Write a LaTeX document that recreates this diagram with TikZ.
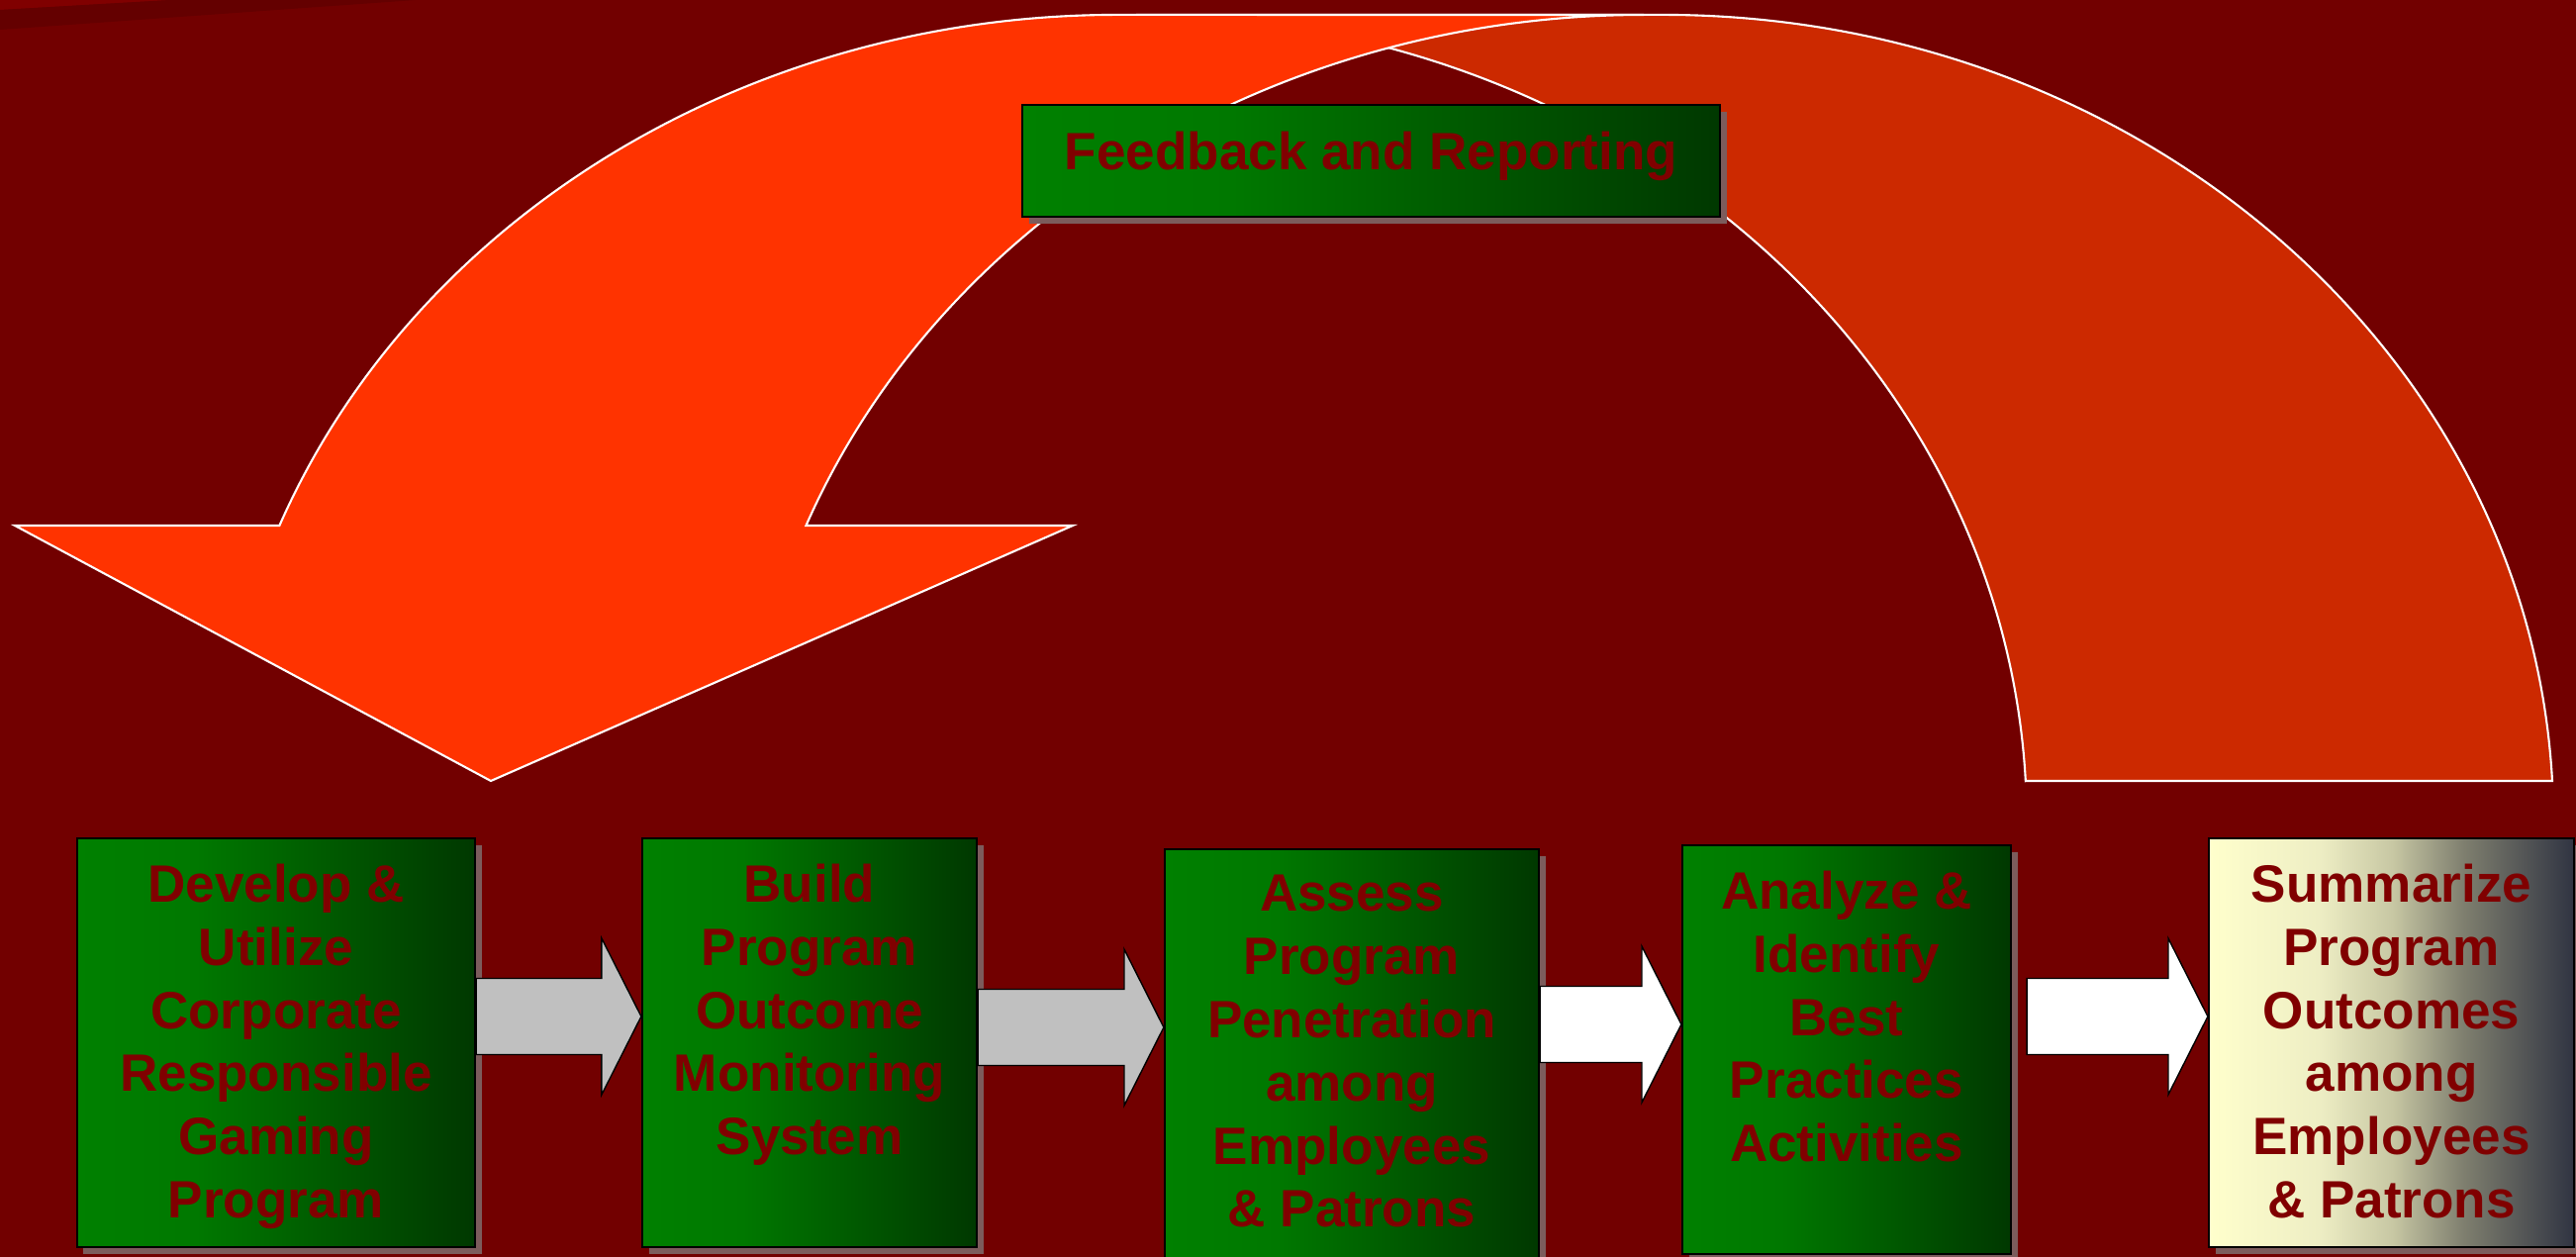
\documentclass[tikz,border=0pt]{standalone}
\usepackage{fontspec}
\setmainfont{Liberation Sans}
\usetikzlibrary{calc,shadows}
\definecolor{bgred}{RGB}{114,0,0}
\definecolor{streaklight}{RGB}{128,0,0}
\definecolor{streakdark}{RGB}{100,0,0}
\definecolor{bandorange}{RGB}{255,51,0}
\definecolor{banddark}{RGB}{204,41,0}
\definecolor{textred}{RGB}{128,0,0}
\definecolor{shadowgrey}{RGB}{124,92,92}
\definecolor{arrowgrey}{RGB}{192,192,192}
\definecolor{greenL}{RGB}{0,128,0}
\definecolor{greenM}{RGB}{0,120,0}
\definecolor{greenR}{RGB}{0,56,0}
\definecolor{sumA}{RGB}{255,255,204}
\definecolor{sumB}{RGB}{238,238,196}
\definecolor{sumC}{RGB}{200,200,164}
\definecolor{sumD}{RGB}{126,126,110}
\definecolor{sumE}{RGB}{48,52,66}
\pgfdeclarehorizontalshading{greenshade}{100bp}{color(0bp)=(greenL); color(25bp)=(greenL); color(40bp)=(greenM); color(75bp)=(greenR); color(100bp)=(greenR)}
\pgfdeclarehorizontalshading{sumshade}{100bp}{color(0bp)=(sumA); color(25bp)=(sumA); color(40bp)=(sumB); color(50bp)=(sumC); color(60bp)=(sumD); color(75bp)=(sumE); color(100bp)=(sumE)}
\tikzset{
    band/.style={draw=white, line width=0.6pt, line join=miter},
    flow/.style={draw=black, line width=0.4pt, line join=miter},
    boxshadow/.style={drop shadow={shadow xshift=0.065cm, shadow yshift=-0.07cm, fill=shadowgrey, opacity=1}},
    greenbox/.style={draw=black, line width=0.6pt, shade, shading=greenshade, inner sep=0pt, boxshadow},
    sumbox/.style={draw=black, line width=0.6pt, shade, shading=sumshade, inner sep=0pt, boxshadow},
    boxtext/.style={text=textred, font=\bfseries\fontsize{15.1}{18.2}\selectfont, align=center, anchor=north, inner sep=0pt}
}
\newcommand{\flowarrow}[3]{%
    \draw[flow,fill=#3] let \p1=#1, \p2=#2 in
        (\x1,\y2+3.85mm) -- (\x2-4mm,\y2+3.85mm) -- (\x2-4mm,\y2+7.9mm) -- (\x2,\y2)
        -- (\x2-4mm,\y2-7.9mm) -- (\x2-4mm,\y2-3.85mm) -- (\x1,\y2-3.85mm) -- cycle;}

\begin{document}
\begin{tikzpicture}
                    \useasboundingbox (0,0) rectangle (26.03,12.70);
                    \clip (0,0) rectangle (26.03,12.70);
                    \fill[bgred] (0,0) rectangle (26.03,12.70);
                    \fill[streaklight] (0,12.70) -- (0,12.60) -- (1.72,12.70) -- cycle;
                    \fill[streakdark] (0,12.60) -- (0,12.40) -- (4.2,12.70) -- (1.72,12.70) -- cycle;

                    \draw[band,fill=banddark] (20.47,4.81) -- (25.79,4.81) arc[start angle=2.88, end angle=90, x radius=9, y radius=8.15] -- (11.48,12.55) arc[start angle=90, end angle=2.88, x radius=9, y radius=8.15] -- cycle;
                    \draw[band,fill=bandorange] (0.15,7.39) -- (2.824,7.39) arc[start angle=158.48, end angle=90, x radius=9.1, y radius=8.15] -- (16.61,12.55) arc[start angle=90, end angle=158.48, x radius=9.1, y radius=8.15] -- (10.84,7.39) -- (4.96,4.81) -- cycle;

                    \node[greenbox, minimum width=7.05cm, minimum height=1.13cm] (fb) at (13.855,11.075) {};
                    \node[boxtext, anchor=base] (fbt) at ([yshift=-0.95mm]fb.center) {Feedback and Reporting};

                    \node[greenbox, minimum width=4.02cm, minimum height=4.13cm] (b1) at (2.79,2.165) {};
                    \node[greenbox, minimum width=3.38cm, minimum height=4.13cm] (b2) at (8.18,2.165) {};
                    \node[greenbox, minimum width=3.78cm, minimum height=4.18cm] (b3) at (13.66,2.03) {};
                    \node[greenbox, minimum width=3.32cm, minimum height=4.13cm] (b4) at (18.66,2.095) {};
                    \node[sumbox, minimum width=3.69cm, minimum height=4.13cm] (b5) at (24.165,2.165) {};

                    \flowarrow{(b1.east)}{(b2.west |- 0,2.43)}{arrowgrey}
                    \flowarrow{(b2.east)}{(b3.west |- 0,2.32)}{arrowgrey}
                    \flowarrow{(b3.east)}{(b4.west |- 0,2.35)}{white}
                    \flowarrow{([xshift=1.5mm]b4.east)}{(b5.west |- 0,2.43)}{white}

                    \node[boxtext] (t1) at ([yshift=-2.6mm]b1.north) {Develop \&\\Utilize\\Corporate\\Responsible\\Gaming\\Program};
                    \node[boxtext] (t2) at ([yshift=-2.6mm]b2.north) {Build\\Program\\Outcome\\Monitoring\\System};
                    \node[boxtext] (t3) at ([yshift=-2.6mm]b3.north) {Assess\\Program\\Penetration\\among\\Employees\\\& Patrons};
                    \node[boxtext] (t4) at ([yshift=-2.6mm]b4.north) {Analyze \&\\Identify\\Best\\Practices\\Activities};
                    \node[boxtext] (t5) at ([yshift=-2.6mm]b5.north) {Summarize\\Program\\Outcomes\\among\\Employees\\\& Patrons};
\end{tikzpicture}
\end{document}
